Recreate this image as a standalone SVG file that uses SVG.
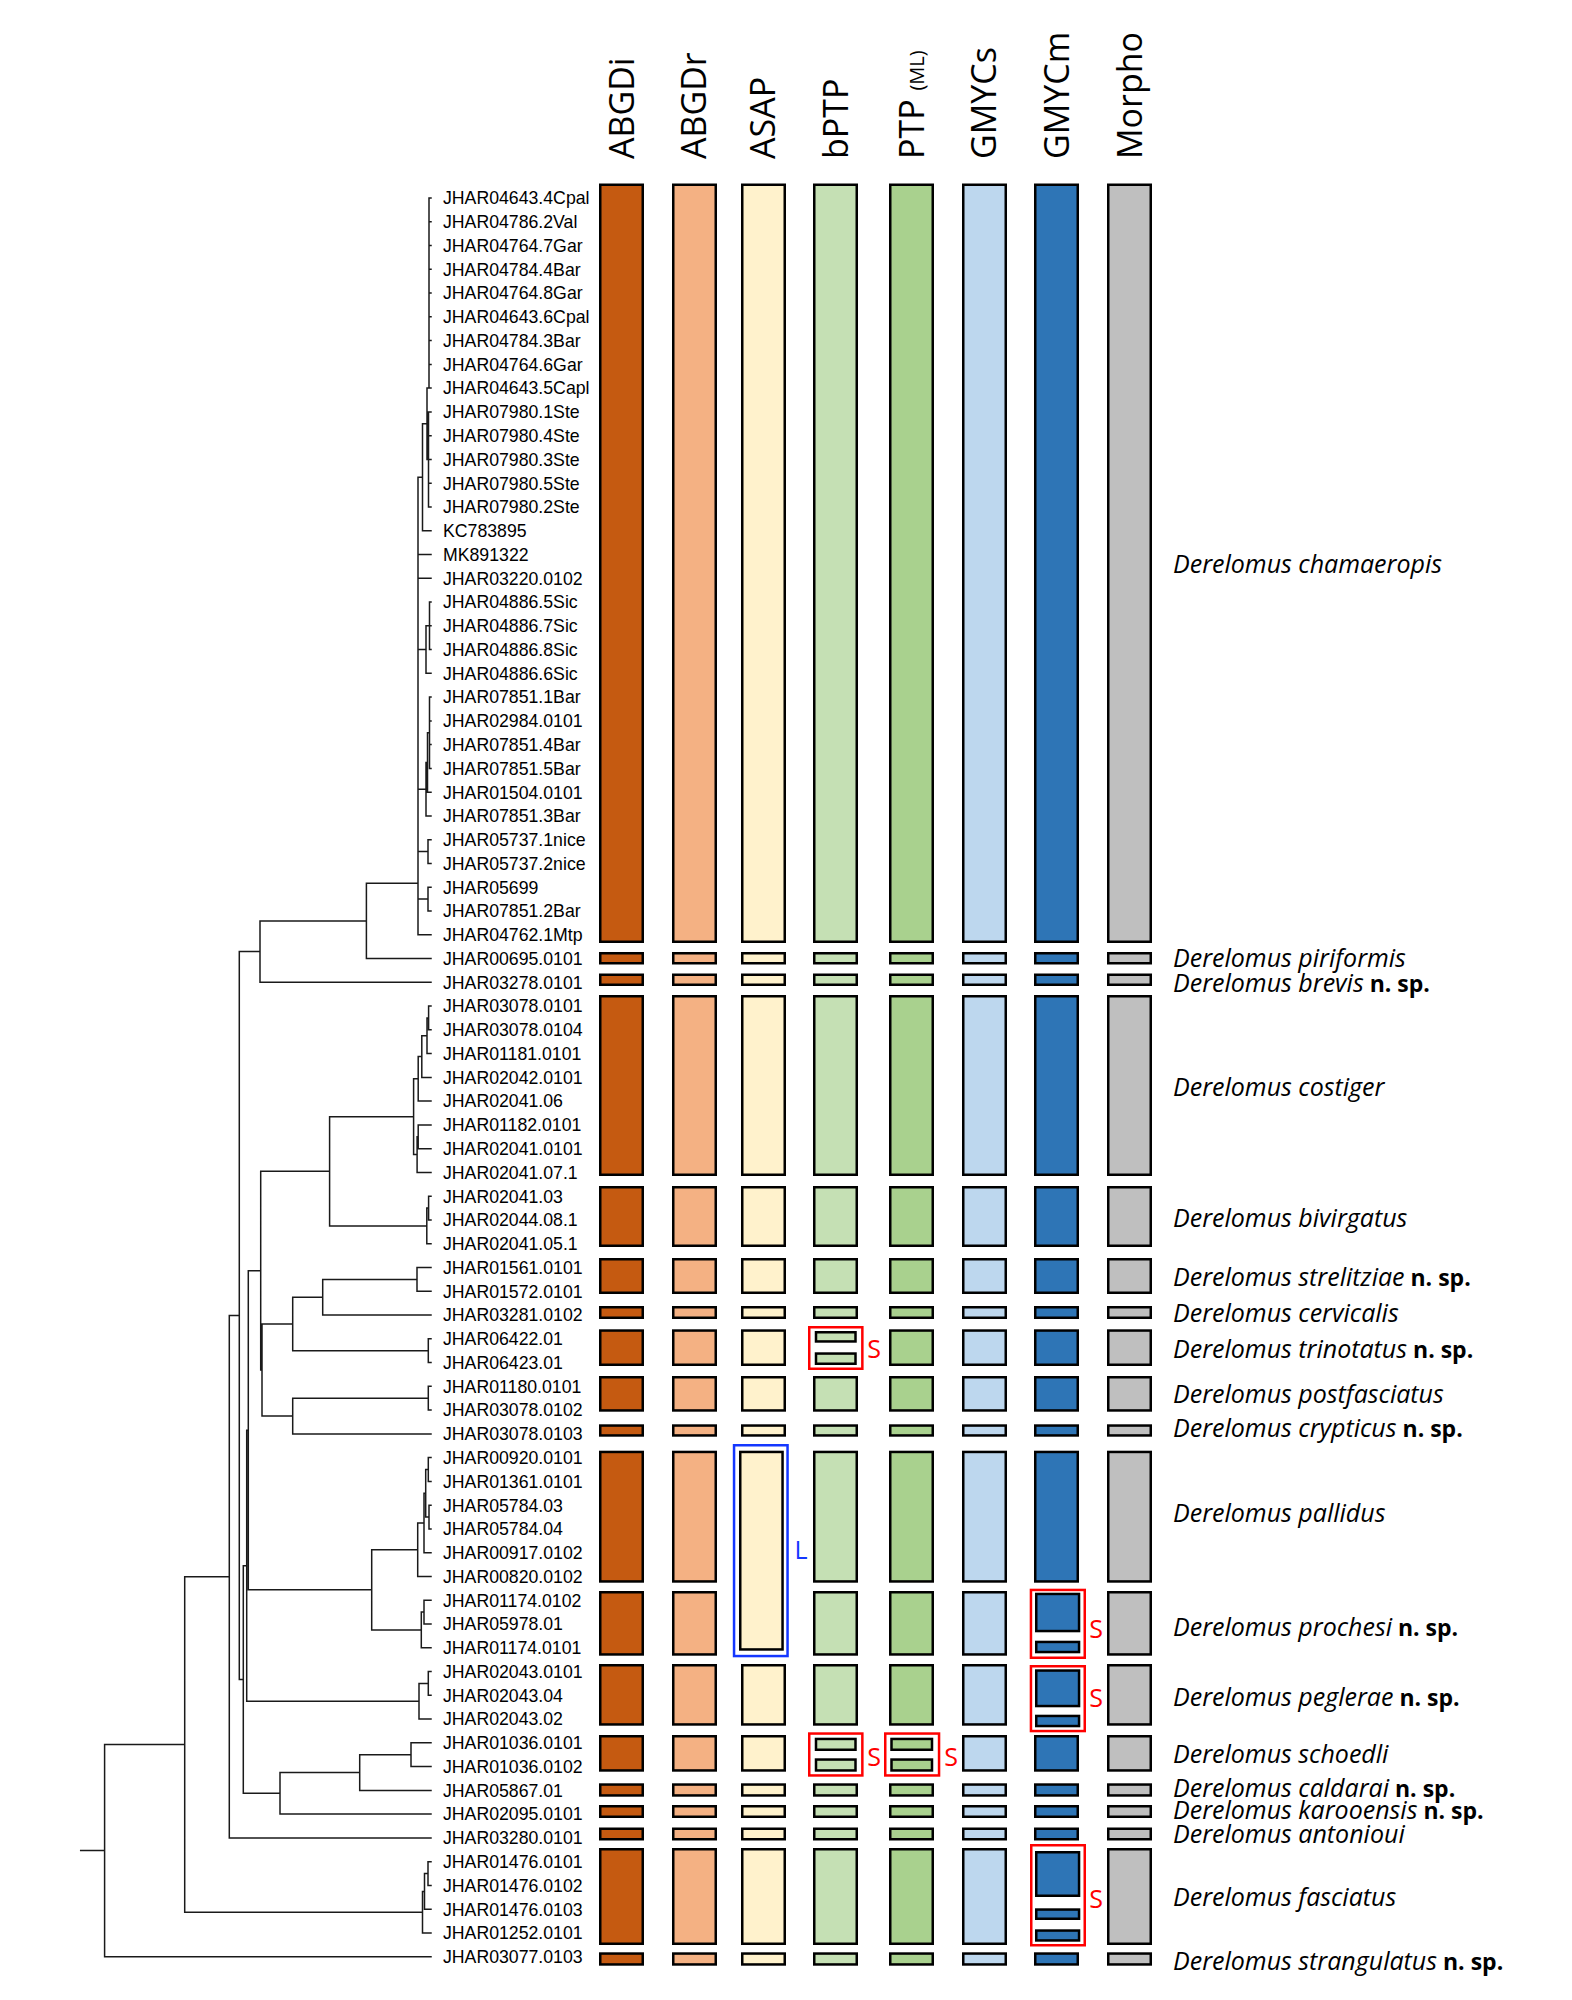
<svg xmlns="http://www.w3.org/2000/svg" width="1572" height="2000" viewBox="0 0 1572 2000">
<style>
.bg{fill:#fff}
.tr{fill:none;stroke:#1a1a1a;stroke-width:1.5;stroke-linecap:square}
.lf{font-family:"Liberation Sans",Arial,sans-serif;font-size:17.7px;fill:#000}
.hd{font-family:"Open Sans","Liberation Sans",sans-serif;font-size:34px;fill:#000}
.sp{font-family:"Open Sans","Liberation Sans",sans-serif;font-size:25px;font-style:italic;fill:#000}
.ns{font-style:normal;font-weight:bold;font-size:23px}
.b{stroke:#000;stroke-width:2.5}
.c1{fill:#c55a11}.c2{fill:#f4b183}.c3{fill:#fff2cc}.c4{fill:#c5e0b4}.c5{fill:#a9d18e}.c6{fill:#bdd7ee}.c7{fill:#2e75b6}.c8{fill:#bfbfbf}
.rb{fill:none;stroke:#ff0000;stroke-width:2.5}
.bb{fill:none;stroke:#1437ff;stroke-width:2.5}
.rs{font-family:"Open Sans","Liberation Sans",sans-serif;font-size:25px;fill:#ff0000;text-anchor:middle}
.bs{font-family:"Open Sans","Liberation Sans",sans-serif;font-size:25px;fill:#1437ff;text-anchor:middle}
</style>
<rect class="bg" x="0" y="0" width="1572" height="2000"/>

<g id="headers">
<text class="hd" transform="translate(634,159) rotate(-90)">ABGDi</text>
<text class="hd" transform="translate(706,159) rotate(-90)">ABGDr</text>
<text class="hd" transform="translate(775,159) rotate(-90)">ASAP</text>
<text class="hd" transform="translate(848,159) rotate(-90)">bPTP</text>
<text class="hd" transform="translate(924,159) rotate(-90)">PTP <tspan font-size="20">(ML)</tspan></text>
<text class="hd" transform="translate(996,159) rotate(-90)">GMYCs</text>
<text class="hd" transform="translate(1069,159) rotate(-90)">GMYCm</text>
<text class="hd" transform="translate(1142,159) rotate(-90)">Morpho</text>
</g>

<g id="connectors">
<path class="tr" d="
M80.7 1850.6H104.6 M104.6 1744.45V1956.7 M104.6 1744.45H184.7 M104.6 1956.7H431
M184.7 1576.7V1912.2 M184.7 1576.7H229.3 M184.7 1912.2H422.5
M229.3 1315.55V1837.9 M229.3 1315.55H239.3 M229.3 1837.9H431
M239.3 951.6V1679.5 M239.3 951.6H260 M239.3 1679.5H243.3
M260 920.9V982.3 M260 920.9H366.4 M260 982.3H431
M366.4 883.3V958.5 M366.4 883.3H418 M366.4 958.5H431
M429 198V388.1 M429 198H431 M429 221.8H431 M429 245.5H431 M429 269.3H431 M429 293.1H431 M429 316.8H431 M429 340.6H431 M429 364.4H431 M429 388.1H431
M428.5 411.9V507 M428.5 411.9H431 M428.5 435.7H431 M428.5 459.4H431 M428.5 483.2H431 M428.5 507H431
M427 388.1V459.4 M427 388.1H429 M427 459.4H428.5
M422.5 423.75V530.7 M422.5 423.75H427 M422.5 530.7H431
M418 477.2V934.8 M418 477.2H422.5
M418 554.5H431 M418 578.3H431
M429.5 602V649.6 M429.5 602H431 M429.5 625.8H431 M429.5 649.6H431
M426 625.8V673.3 M426 625.8H429.5 M426 673.3H431 M418 649.55H426
M429.5 697.1V768.4 M429.5 697.1H431 M429.5 720.9H431 M429.5 744.6H431 M429.5 768.4H431
M427.5 732.75V792.2 M427.5 732.75H429.5 M427.5 792.2H431
M426 762.5V815.9 M426 762.5H427.5 M426 815.9H431 M418 789.2H426
M428 839.7V863.5 M428 839.7H431 M428 863.5H431 M418 851.6H428
M428 887.2V911 M428 887.2H431 M428 911H431 M418 899.1H428
M418 934.8H431
M428.6 1006.1V1029.8 M428.6 1006.1H431 M428.6 1029.8H431
M427 1017.95V1053.6 M427 1017.95H428.6 M427 1053.6H431
M421.8 1035.8V1077.4 M421.8 1035.8H427 M421.8 1077.4H431
M418.2 1056.6V1101.1 M418.2 1056.6H421.8 M418.2 1101.1H431
M418.2 1124.9V1148.7 M418.2 1124.9H431 M418.2 1148.7H431
M417.1 1136.8V1172.4 M417.1 1136.8H418.2 M417.1 1172.4H431
M413.6 1078.85V1154.6 M413.6 1078.85H418.2 M413.6 1154.6H417.1
M428.6 1196.2V1220 M428.6 1196.2H431 M428.6 1220H431
M426.8 1208.1V1243.7 M426.8 1208.1H428.6 M426.8 1243.7H431
M329.6 1116.7V1225.9 M329.6 1116.7H413.6 M329.6 1225.9H426.8
M260.7 1171.3V1370 M260.7 1171.3H329.6 M260.7 1370H262
M262 1323.95V1416.05 M262 1323.95H292.7 M262 1416.05H292.7
M292.7 1297.2V1350.7 M292.7 1297.2H322.7 M292.7 1350.7H428.3
M322.7 1279.4V1315 M322.7 1279.4H417 M322.7 1315H431
M417 1267.5V1291.3 M417 1267.5H431 M417 1291.3H431
M428.3 1338.8V1362.6 M428.3 1338.8H431 M428.3 1362.6H431
M292.7 1398.2V1433.9 M292.7 1398.2H428.3 M292.7 1433.9H431
M428.3 1386.3V1410.1 M428.3 1386.3H431 M428.3 1410.1H431
M248.3 1270.65V1589.85 M248.3 1270.65H260.7 M248.3 1589.85H371.7
M371.7 1549.75V1629.95 M371.7 1549.75H417.7 M371.7 1629.95H421.3
M417.7 1523V1576.5 M417.7 1523H424 M417.7 1576.5H431
M424 1493.3V1552.7 M424 1493.3H425.7 M424 1552.7H431
M425.7 1469.5V1517.05 M425.7 1469.5H428.3 M425.7 1517.05H429
M428.3 1457.6V1481.4 M428.3 1457.6H431 M428.3 1481.4H431
M429 1505.2V1528.9 M429 1505.2H431 M429 1528.9H431
M421.3 1612.1V1647.8 M421.3 1612.1H424 M421.3 1647.8H431
M424 1600.2V1624 M424 1600.2H431 M424 1624H431
M246.7 1430.25V1701.25 M246.7 1430.25H248.3 M246.7 1701.25H419
M419 1683.4V1719.1 M419 1683.4H428.3 M419 1719.1H431
M428.3 1671.5V1695.3 M428.3 1671.5H431 M428.3 1695.3H431
M243.3 1565.75V1793.3 M243.3 1565.75H246.7 M243.3 1793.3H280
M280 1772.55V1814.1 M280 1772.55H359.7 M280 1814.1H431
M359.7 1754.7V1790.4 M359.7 1754.7H411 M359.7 1790.4H431
M411 1742.8V1766.6 M411 1742.8H431 M411 1766.6H431
M422.5 1891.4V1933 M422.5 1891.4H424.5 M422.5 1933H431
M424.5 1873.55V1909.2 M424.5 1873.55H428 M424.5 1909.2H431
M428 1861.7V1885.4 M428 1861.7H431 M428 1885.4H431
"/>
</g>

<g id="leaf-labels" class="lf">
<text x="443" y="204.3">JHAR04643.4Cpal</text>
<text x="443" y="228.1">JHAR04786.2Val</text>
<text x="443" y="251.8">JHAR04764.7Gar</text>
<text x="443" y="275.6">JHAR04784.4Bar</text>
<text x="443" y="299.4">JHAR04764.8Gar</text>
<text x="443" y="323.1">JHAR04643.6Cpal</text>
<text x="443" y="346.9">JHAR04784.3Bar</text>
<text x="443" y="370.7">JHAR04764.6Gar</text>
<text x="443" y="394.4">JHAR04643.5Capl</text>
<text x="443" y="418.2">JHAR07980.1Ste</text>
<text x="443" y="442">JHAR07980.4Ste</text>
<text x="443" y="465.7">JHAR07980.3Ste</text>
<text x="443" y="489.5">JHAR07980.5Ste</text>
<text x="443" y="513.3">JHAR07980.2Ste</text>
<text x="443" y="537">KC783895</text>
<text x="443" y="560.8">MK891322</text>
<text x="443" y="584.6">JHAR03220.0102</text>
<text x="443" y="608.3">JHAR04886.5Sic</text>
<text x="443" y="632.1">JHAR04886.7Sic</text>
<text x="443" y="655.9">JHAR04886.8Sic</text>
<text x="443" y="679.6">JHAR04886.6Sic</text>
<text x="443" y="703.4">JHAR07851.1Bar</text>
<text x="443" y="727.2">JHAR02984.0101</text>
<text x="443" y="750.9">JHAR07851.4Bar</text>
<text x="443" y="774.7">JHAR07851.5Bar</text>
<text x="443" y="798.5">JHAR01504.0101</text>
<text x="443" y="822.2">JHAR07851.3Bar</text>
<text x="443" y="846">JHAR05737.1nice</text>
<text x="443" y="869.8">JHAR05737.2nice</text>
<text x="443" y="893.5">JHAR05699</text>
<text x="443" y="917.3">JHAR07851.2Bar</text>
<text x="443" y="941.1">JHAR04762.1Mtp</text>
<text x="443" y="964.8">JHAR00695.0101</text>
<text x="443" y="988.6">JHAR03278.0101</text>
<text x="443" y="1012.4">JHAR03078.0101</text>
<text x="443" y="1036.1">JHAR03078.0104</text>
<text x="443" y="1059.9">JHAR01181.0101</text>
<text x="443" y="1083.7">JHAR02042.0101</text>
<text x="443" y="1107.4">JHAR02041.06</text>
<text x="443" y="1131.2">JHAR01182.0101</text>
<text x="443" y="1155">JHAR02041.0101</text>
<text x="443" y="1178.7">JHAR02041.07.1</text>
<text x="443" y="1202.5">JHAR02041.03</text>
<text x="443" y="1226.3">JHAR02044.08.1</text>
<text x="443" y="1250">JHAR02041.05.1</text>
<text x="443" y="1273.8">JHAR01561.0101</text>
<text x="443" y="1297.6">JHAR01572.0101</text>
<text x="443" y="1321.3">JHAR03281.0102</text>
<text x="443" y="1345.1">JHAR06422.01</text>
<text x="443" y="1368.9">JHAR06423.01</text>
<text x="443" y="1392.6">JHAR01180.0101</text>
<text x="443" y="1416.4">JHAR03078.0102</text>
<text x="443" y="1440.2">JHAR03078.0103</text>
<text x="443" y="1463.9">JHAR00920.0101</text>
<text x="443" y="1487.7">JHAR01361.0101</text>
<text x="443" y="1511.5">JHAR05784.03</text>
<text x="443" y="1535.2">JHAR05784.04</text>
<text x="443" y="1559">JHAR00917.0102</text>
<text x="443" y="1582.8">JHAR00820.0102</text>
<text x="443" y="1606.5">JHAR01174.0102</text>
<text x="443" y="1630.3">JHAR05978.01</text>
<text x="443" y="1654.1">JHAR01174.0101</text>
<text x="443" y="1677.8">JHAR02043.0101</text>
<text x="443" y="1701.6">JHAR02043.04</text>
<text x="443" y="1725.4">JHAR02043.02</text>
<text x="443" y="1749.1">JHAR01036.0101</text>
<text x="443" y="1772.9">JHAR01036.0102</text>
<text x="443" y="1796.7">JHAR05867.01</text>
<text x="443" y="1820.4">JHAR02095.0101</text>
<text x="443" y="1844.2">JHAR03280.0101</text>
<text x="443" y="1868">JHAR01476.0101</text>
<text x="443" y="1891.7">JHAR01476.0102</text>
<text x="443" y="1915.5">JHAR01476.0103</text>
<text x="443" y="1939.3">JHAR01252.0101</text>
<text x="443" y="1963">JHAR03077.0103</text>
</g>

<g id="sp-chamaeropis">
<rect class="b c1" x="600.25" y="184.75" width="42.5" height="757"/>
<rect class="b c2" x="673.25" y="184.75" width="42.5" height="757"/>
<rect class="b c3" x="742.25" y="184.75" width="42.5" height="757"/>
<rect class="b c4" x="814.25" y="184.75" width="42.5" height="757"/>
<rect class="b c5" x="890.25" y="184.75" width="42.5" height="757"/>
<rect class="b c6" x="963.25" y="184.75" width="42.5" height="757"/>
<rect class="b c7" x="1035.25" y="184.75" width="42.5" height="757"/>
<rect class="b c8" x="1108.25" y="184.75" width="42.5" height="757"/>
<text class="sp" x="1173" y="572.5">Derelomus chamaeropis</text>
</g>
<g id="sp-piriformis">
<rect class="b c1" x="600.25" y="953.25" width="42.5" height="10"/>
<rect class="b c2" x="673.25" y="953.25" width="42.5" height="10"/>
<rect class="b c3" x="742.25" y="953.25" width="42.5" height="10"/>
<rect class="b c4" x="814.25" y="953.25" width="42.5" height="10"/>
<rect class="b c5" x="890.25" y="953.25" width="42.5" height="10"/>
<rect class="b c6" x="963.25" y="953.25" width="42.5" height="10"/>
<rect class="b c7" x="1035.25" y="953.25" width="42.5" height="10"/>
<rect class="b c8" x="1108.25" y="953.25" width="42.5" height="10"/>
<text class="sp" x="1173" y="967">Derelomus piriformis</text>
</g>
<g id="sp-brevis">
<rect class="b c1" x="600.25" y="974.75" width="42.5" height="10"/>
<rect class="b c2" x="673.25" y="974.75" width="42.5" height="10"/>
<rect class="b c3" x="742.25" y="974.75" width="42.5" height="10"/>
<rect class="b c4" x="814.25" y="974.75" width="42.5" height="10"/>
<rect class="b c5" x="890.25" y="974.75" width="42.5" height="10"/>
<rect class="b c6" x="963.25" y="974.75" width="42.5" height="10"/>
<rect class="b c7" x="1035.25" y="974.75" width="42.5" height="10"/>
<rect class="b c8" x="1108.25" y="974.75" width="42.5" height="10"/>
<text class="sp" x="1173" y="992">Derelomus brevis<tspan class="ns"> n. sp.</tspan></text>
</g>
<g id="sp-costiger">
<rect class="b c1" x="600.25" y="996.25" width="42.5" height="178.5"/>
<rect class="b c2" x="673.25" y="996.25" width="42.5" height="178.5"/>
<rect class="b c3" x="742.25" y="996.25" width="42.5" height="178.5"/>
<rect class="b c4" x="814.25" y="996.25" width="42.5" height="178.5"/>
<rect class="b c5" x="890.25" y="996.25" width="42.5" height="178.5"/>
<rect class="b c6" x="963.25" y="996.25" width="42.5" height="178.5"/>
<rect class="b c7" x="1035.25" y="996.25" width="42.5" height="178.5"/>
<rect class="b c8" x="1108.25" y="996.25" width="42.5" height="178.5"/>
<text class="sp" x="1173" y="1095.5">Derelomus costiger</text>
</g>
<g id="sp-bivirgatus">
<rect class="b c1" x="600.25" y="1187.25" width="42.5" height="58.5"/>
<rect class="b c2" x="673.25" y="1187.25" width="42.5" height="58.5"/>
<rect class="b c3" x="742.25" y="1187.25" width="42.5" height="58.5"/>
<rect class="b c4" x="814.25" y="1187.25" width="42.5" height="58.5"/>
<rect class="b c5" x="890.25" y="1187.25" width="42.5" height="58.5"/>
<rect class="b c6" x="963.25" y="1187.25" width="42.5" height="58.5"/>
<rect class="b c7" x="1035.25" y="1187.25" width="42.5" height="58.5"/>
<rect class="b c8" x="1108.25" y="1187.25" width="42.5" height="58.5"/>
<text class="sp" x="1173" y="1226.5">Derelomus bivirgatus</text>
</g>
<g id="sp-strelitziae">
<rect class="b c1" x="600.25" y="1259.25" width="42.5" height="33.5"/>
<rect class="b c2" x="673.25" y="1259.25" width="42.5" height="33.5"/>
<rect class="b c3" x="742.25" y="1259.25" width="42.5" height="33.5"/>
<rect class="b c4" x="814.25" y="1259.25" width="42.5" height="33.5"/>
<rect class="b c5" x="890.25" y="1259.25" width="42.5" height="33.5"/>
<rect class="b c6" x="963.25" y="1259.25" width="42.5" height="33.5"/>
<rect class="b c7" x="1035.25" y="1259.25" width="42.5" height="33.5"/>
<rect class="b c8" x="1108.25" y="1259.25" width="42.5" height="33.5"/>
<text class="sp" x="1173" y="1285.5">Derelomus strelitziae<tspan class="ns"> n. sp.</tspan></text>
</g>
<g id="sp-cervicalis">
<rect class="b c1" x="600.25" y="1307.25" width="42.5" height="10.5"/>
<rect class="b c2" x="673.25" y="1307.25" width="42.5" height="10.5"/>
<rect class="b c3" x="742.25" y="1307.25" width="42.5" height="10.5"/>
<rect class="b c4" x="814.25" y="1307.25" width="42.5" height="10.5"/>
<rect class="b c5" x="890.25" y="1307.25" width="42.5" height="10.5"/>
<rect class="b c6" x="963.25" y="1307.25" width="42.5" height="10.5"/>
<rect class="b c7" x="1035.25" y="1307.25" width="42.5" height="10.5"/>
<rect class="b c8" x="1108.25" y="1307.25" width="42.5" height="10.5"/>
<text class="sp" x="1173" y="1322">Derelomus cervicalis</text>
</g>
<g id="sp-trinotatus">
<rect class="b c1" x="600.25" y="1330.55" width="42.5" height="34.2"/>
<rect class="b c2" x="673.25" y="1330.55" width="42.5" height="34.2"/>
<rect class="b c3" x="742.25" y="1330.55" width="42.5" height="34.2"/>
<rect class="b c4" x="816" y="1332.25" width="39.5" height="9.2"/>
<rect class="b c4" x="816" y="1353.55" width="39.5" height="10.2"/>
<rect class="rb" x="809.25" y="1327.25" width="53.1" height="41.5"/>
<text class="rs" x="874" y="1358">S</text>
<rect class="b c5" x="890.25" y="1330.55" width="42.5" height="34.2"/>
<rect class="b c6" x="963.25" y="1330.55" width="42.5" height="34.2"/>
<rect class="b c7" x="1035.25" y="1330.55" width="42.5" height="34.2"/>
<rect class="b c8" x="1108.25" y="1330.55" width="42.5" height="34.2"/>
<text class="sp" x="1173" y="1357.5">Derelomus trinotatus<tspan class="ns"> n. sp.</tspan></text>
</g>
<g id="sp-postfasciatus">
<rect class="b c1" x="600.25" y="1377.25" width="42.5" height="33.2"/>
<rect class="b c2" x="673.25" y="1377.25" width="42.5" height="33.2"/>
<rect class="b c3" x="742.25" y="1377.25" width="42.5" height="33.2"/>
<rect class="b c4" x="814.25" y="1377.25" width="42.5" height="33.2"/>
<rect class="b c5" x="890.25" y="1377.25" width="42.5" height="33.2"/>
<rect class="b c6" x="963.25" y="1377.25" width="42.5" height="33.2"/>
<rect class="b c7" x="1035.25" y="1377.25" width="42.5" height="33.2"/>
<rect class="b c8" x="1108.25" y="1377.25" width="42.5" height="33.2"/>
<text class="sp" x="1173" y="1403">Derelomus postfasciatus</text>
</g>
<g id="sp-crypticus">
<rect class="b c1" x="600.25" y="1425.55" width="42.5" height="9.9"/>
<rect class="b c2" x="673.25" y="1425.55" width="42.5" height="9.9"/>
<rect class="b c3" x="742.25" y="1425.55" width="42.5" height="9.9"/>
<rect class="b c4" x="814.25" y="1425.55" width="42.5" height="9.9"/>
<rect class="b c5" x="890.25" y="1425.55" width="42.5" height="9.9"/>
<rect class="b c6" x="963.25" y="1425.55" width="42.5" height="9.9"/>
<rect class="b c7" x="1035.25" y="1425.55" width="42.5" height="9.9"/>
<rect class="b c8" x="1108.25" y="1425.55" width="42.5" height="9.9"/>
<text class="sp" x="1173" y="1437">Derelomus crypticus<tspan class="ns"> n. sp.</tspan></text>
</g>
<g id="asap-merge">
<rect class="b c3" x="740.25" y="1451.95" width="42.3" height="197.5"/>
<rect class="bb" x="734.05" y="1445.25" width="53.5" height="210.8"/>
<text class="bs" x="801" y="1558.5">L</text>
</g>
<g id="sp-pallidus">
<rect class="b c1" x="600.25" y="1451.95" width="42.5" height="129.5"/>
<rect class="b c2" x="673.25" y="1451.95" width="42.5" height="129.5"/>
<rect class="b c4" x="814.25" y="1451.95" width="42.5" height="129.5"/>
<rect class="b c5" x="890.25" y="1451.95" width="42.5" height="129.5"/>
<rect class="b c6" x="963.25" y="1451.95" width="42.5" height="129.5"/>
<rect class="b c7" x="1035.25" y="1451.95" width="42.5" height="129.5"/>
<rect class="b c8" x="1108.25" y="1451.95" width="42.5" height="129.5"/>
<text class="sp" x="1173" y="1521.5">Derelomus pallidus</text>
</g>
<g id="sp-prochesi">
<rect class="b c1" x="600.25" y="1592.25" width="42.5" height="62.2"/>
<rect class="b c2" x="673.25" y="1592.25" width="42.5" height="62.2"/>
<rect class="b c4" x="814.25" y="1592.25" width="42.5" height="62.2"/>
<rect class="b c5" x="890.25" y="1592.25" width="42.5" height="62.2"/>
<rect class="b c6" x="963.25" y="1592.25" width="42.5" height="62.2"/>
<rect class="b c7" x="1036.25" y="1593.95" width="42.8" height="37.1"/>
<rect class="b c7" x="1036.25" y="1641.95" width="42.8" height="10.1"/>
<rect class="rb" x="1030.95" y="1589.95" width="53.8" height="67.8"/>
<text class="rs" x="1096" y="1638">S</text>
<rect class="b c8" x="1108.25" y="1592.25" width="42.5" height="62.2"/>
<text class="sp" x="1173" y="1635.5">Derelomus prochesi<tspan class="ns"> n. sp.</tspan></text>
</g>
<g id="sp-peglerae">
<rect class="b c1" x="600.25" y="1665.25" width="42.5" height="59.2"/>
<rect class="b c2" x="673.25" y="1665.25" width="42.5" height="59.2"/>
<rect class="b c3" x="742.25" y="1665.25" width="42.5" height="59.2"/>
<rect class="b c4" x="814.25" y="1665.25" width="42.5" height="59.2"/>
<rect class="b c5" x="890.25" y="1665.25" width="42.5" height="59.2"/>
<rect class="b c6" x="963.25" y="1665.25" width="42.5" height="59.2"/>
<rect class="b c7" x="1036.25" y="1670.55" width="42.8" height="35.5"/>
<rect class="b c7" x="1036.25" y="1715.95" width="42.8" height="10.1"/>
<rect class="rb" x="1030.95" y="1666.25" width="53.8" height="64.8"/>
<text class="rs" x="1096" y="1707">S</text>
<rect class="b c8" x="1108.25" y="1665.25" width="42.5" height="59.2"/>
<text class="sp" x="1173" y="1705.5">Derelomus peglerae<tspan class="ns"> n. sp.</tspan></text>
</g>
<g id="sp-schoedli">
<rect class="b c1" x="600.25" y="1736.25" width="42.5" height="34.2"/>
<rect class="b c2" x="673.25" y="1736.25" width="42.5" height="34.2"/>
<rect class="b c3" x="742.25" y="1736.25" width="42.5" height="34.2"/>
<rect class="b c4" x="816" y="1738.95" width="39.5" height="10.8"/>
<rect class="b c4" x="816" y="1759.55" width="39.5" height="10.9"/>
<rect class="rb" x="809.25" y="1733.55" width="53.1" height="41.9"/>
<text class="rs" x="874" y="1765.5">S</text>
<rect class="b c5" x="891.5" y="1738.95" width="40.5" height="10.8"/>
<rect class="b c5" x="891.5" y="1759.55" width="40.5" height="10.9"/>
<rect class="rb" x="885.25" y="1733.55" width="53.8" height="41.9"/>
<text class="rs" x="951" y="1765.5">S</text>
<rect class="b c6" x="963.25" y="1736.25" width="42.5" height="34.2"/>
<rect class="b c7" x="1035.25" y="1736.25" width="42.5" height="34.2"/>
<rect class="b c8" x="1108.25" y="1736.25" width="42.5" height="34.2"/>
<text class="sp" x="1173" y="1763">Derelomus schoedli</text>
</g>
<g id="sp-caldarai">
<rect class="b c1" x="600.25" y="1784.55" width="42.5" height="10.9"/>
<rect class="b c2" x="673.25" y="1784.55" width="42.5" height="10.9"/>
<rect class="b c3" x="742.25" y="1784.55" width="42.5" height="10.9"/>
<rect class="b c4" x="814.25" y="1784.55" width="42.5" height="10.9"/>
<rect class="b c5" x="890.25" y="1784.55" width="42.5" height="10.9"/>
<rect class="b c6" x="963.25" y="1784.55" width="42.5" height="10.9"/>
<rect class="b c7" x="1035.25" y="1784.55" width="42.5" height="10.9"/>
<rect class="b c8" x="1108.25" y="1784.55" width="42.5" height="10.9"/>
<text class="sp" x="1173" y="1796.5">Derelomus caldarai<tspan class="ns"> n. sp.</tspan></text>
</g>
<g id="sp-karooensis">
<rect class="b c1" x="600.25" y="1806.25" width="42.5" height="10.5"/>
<rect class="b c2" x="673.25" y="1806.25" width="42.5" height="10.5"/>
<rect class="b c3" x="742.25" y="1806.25" width="42.5" height="10.5"/>
<rect class="b c4" x="814.25" y="1806.25" width="42.5" height="10.5"/>
<rect class="b c5" x="890.25" y="1806.25" width="42.5" height="10.5"/>
<rect class="b c6" x="963.25" y="1806.25" width="42.5" height="10.5"/>
<rect class="b c7" x="1035.25" y="1806.25" width="42.5" height="10.5"/>
<rect class="b c8" x="1108.25" y="1806.25" width="42.5" height="10.5"/>
<text class="sp" x="1173" y="1818.5">Derelomus karooensis<tspan class="ns"> n. sp.</tspan></text>
</g>
<g id="sp-antonioui">
<rect class="b c1" x="600.25" y="1828.75" width="42.5" height="10.5"/>
<rect class="b c2" x="673.25" y="1828.75" width="42.5" height="10.5"/>
<rect class="b c3" x="742.25" y="1828.75" width="42.5" height="10.5"/>
<rect class="b c4" x="814.25" y="1828.75" width="42.5" height="10.5"/>
<rect class="b c5" x="890.25" y="1828.75" width="42.5" height="10.5"/>
<rect class="b c6" x="963.25" y="1828.75" width="42.5" height="10.5"/>
<rect class="b c7" x="1035.25" y="1828.75" width="42.5" height="10.5"/>
<rect class="b c8" x="1108.25" y="1828.75" width="42.5" height="10.5"/>
<text class="sp" x="1173" y="1843">Derelomus antonioui</text>
</g>
<g id="sp-fasciatus">
<rect class="b c1" x="600.25" y="1849.25" width="42.5" height="94.5"/>
<rect class="b c2" x="673.25" y="1849.25" width="42.5" height="94.5"/>
<rect class="b c3" x="742.25" y="1849.25" width="42.5" height="94.5"/>
<rect class="b c4" x="814.25" y="1849.25" width="42.5" height="94.5"/>
<rect class="b c5" x="890.25" y="1849.25" width="42.5" height="94.5"/>
<rect class="b c6" x="963.25" y="1849.25" width="42.5" height="94.5"/>
<rect class="b c7" x="1036.25" y="1852.25" width="42.8" height="43.5"/>
<rect class="b c7" x="1036.25" y="1909.55" width="42.8" height="9.2"/>
<rect class="b c7" x="1036.25" y="1930.55" width="42.8" height="9.9"/>
<rect class="rb" x="1031.25" y="1845.25" width="53.5" height="100"/>
<text class="rs" x="1096" y="1908">S</text>
<rect class="b c8" x="1108.25" y="1849.25" width="42.5" height="94.5"/>
<text class="sp" x="1173" y="1906">Derelomus fasciatus</text>
</g>
<g id="sp-strangulatus">
<rect class="b c1" x="600.25" y="1953.55" width="42.5" height="10.9"/>
<rect class="b c2" x="673.25" y="1953.55" width="42.5" height="10.9"/>
<rect class="b c3" x="742.25" y="1953.55" width="42.5" height="10.9"/>
<rect class="b c4" x="814.25" y="1953.55" width="42.5" height="10.9"/>
<rect class="b c5" x="890.25" y="1953.55" width="42.5" height="10.9"/>
<rect class="b c6" x="963.25" y="1953.55" width="42.5" height="10.9"/>
<rect class="b c7" x="1035.25" y="1953.55" width="42.5" height="10.9"/>
<rect class="b c8" x="1108.25" y="1953.55" width="42.5" height="10.9"/>
<text class="sp" x="1173" y="1970">Derelomus strangulatus<tspan class="ns"> n. sp.</tspan></text>
</g>
</svg>
